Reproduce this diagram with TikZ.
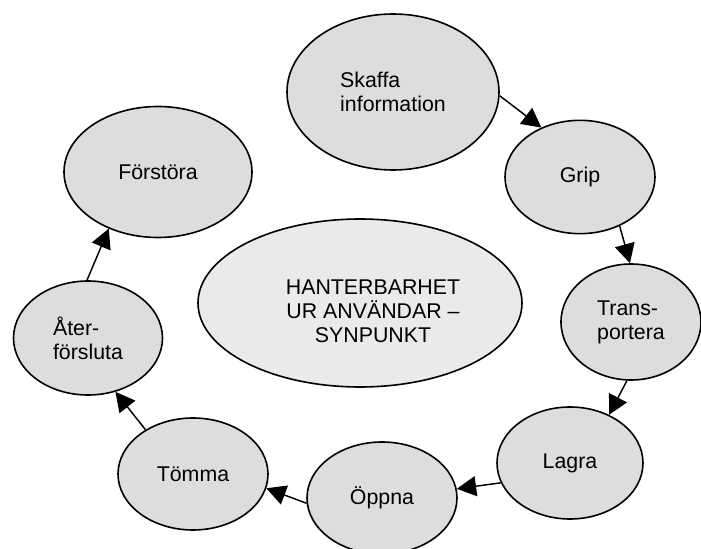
\documentclass[tikz,border=0pt]{standalone}
\usepackage{fontspec}
\setmainfont{Liberation Sans}
\usetikzlibrary{shapes.geometric,arrows.meta}
\definecolor{bubgray}{HTML}{DDDDDD}
\definecolor{centgray}{HTML}{EAEAEA}
\begin{document}
\begin{tikzpicture}[x=0.75pt,y=-0.75pt,
  bub/.style={ellipse,draw=black,line width=1.2pt,fill=bubgray,inner sep=0pt,
    font=\fontsize{16}{18}\selectfont},
  txt/.style={inner sep=0pt,font=\fontsize{16}{18}\selectfont},
  conn/.style={line width=1.1pt,-{Triangle[length=14.5pt,width=15pt]}}]
\useasboundingbox (0,0) rectangle (701,549);
\clip (0,0) rectangle (701,549);
% central ellipse
\node[bub,fill=centgray,minimum width=243pt,minimum height=126pt] (center) at (360,303) {};
\node[txt,align=center] (ctext) at (373,311) {HANTERBARHET\\UR ANVÄNDAR –\\SYNPUNKT};
% ring of ellipses
\node[bub,align=left,minimum width=159pt,minimum height=117pt] (skaffa) at (393,92) {Skaffa\\information};
\node[bub,minimum width=112.5pt,minimum height=85pt] (grip) at (580,177) {Grip};
\node[bub,align=left,minimum width=105pt,minimum height=87pt] (transp) at (631,322) {Trans-\\portera};
\node[bub,minimum width=109.5pt,minimum height=84pt] (lagra) at (570,463) {Lagra};
\node[bub,minimum width=112.5pt,minimum height=84pt] (oppna) at (382,498) {Öppna};
\node[bub,minimum width=112.5pt,minimum height=84pt] (tomma) at (193,474) {Tömma};
\node[bub,align=left,minimum width=111.75pt,minimum height=85.5pt] (ater) at (88,338) {Åter-\\försluta};
\node[bub,minimum width=141pt,minimum height=98.25pt] (forstora) at (158,172) {Förstöra};
% connectors
\draw[conn] (skaffa.-2) -- (grip.128);
\draw[conn] (grip.-51) -- (transp.91);
\draw[conn] (transp.-94) -- (lagra.51);
\draw[conn] (lagra.196) -- (oppna.7);
\draw[conn] (oppna.184) -- (tomma.-11);
\draw[conn] (tomma.137) -- (ater.-63);
\draw[conn] (ater.91) -- (forstora.-131);
\end{tikzpicture}
\end{document}
